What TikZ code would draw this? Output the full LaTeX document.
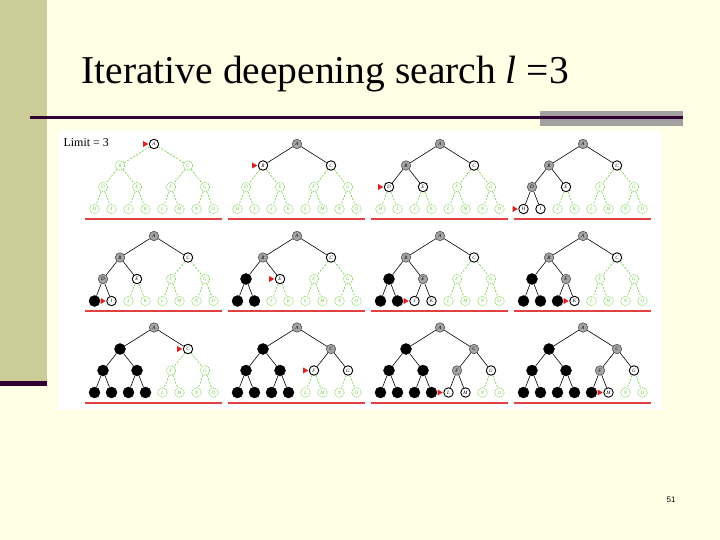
\documentclass[tikz,border=0pt]{standalone}
\usepackage{fontspec}
\setmainfont{Liberation Serif}
\newfontfamily\slidesans{Liberation Sans}
\usepackage{xcolor}
\definecolor{slidebg}{HTML}{FFFFE5}
\definecolor{khaki}{HTML}{CCCC99}
\definecolor{plum}{HTML}{330033}
\definecolor{barstone}{HTML}{A0A0A0}
\definecolor{treegreen}{HTML}{66CC33}
\definecolor{expgray}{HTML}{A4A4A4}
\definecolor{markred}{HTML}{E02020}
\definecolor{rulered}{HTML}{E04040}

% one search snapshot: #1 name, #2/#3 root position, #4 states (0 new, 1 frontier, 2 expanded, 3 dropped), #5 marked node
\newcommand\treepanel[5]{%
  \begin{scope}[shift={(#2,#3)}]
    \foreach \lab [count=\i] in {A,B,C,D,E,F,G,H,I,J,K,L,M,N,O} {
      \pgfmathtruncatemacro\st{{#4}[\i-1]}
      \pgfmathsetmacro\nx{{0,-34,34,-51,-17,17,51,-59.5,-42.5,-25.5,-8.5,8.5,25.5,42.5,59.5}[\i-1]}
      \pgfmathsetmacro\ny{{0,21.5,21.5,43,43,43,43,65,65,65,65,65,65,65,65}[\i-1]}
      \node[treenode, st\st] (#1n\i) at (\nx,\ny) {\lab};
    }
    \foreach \i in {2,...,15} {
      \pgfmathtruncatemacro\up{int(\i/2)}
      \pgfmathtruncatemacro\st{{#4}[\i-1]}
      \draw[ed\st] (#1n\up) -- (#1n\i);
    }
    \fill[markred] ([xshift=-0.6pt]#1n#5.west) -- ++(-5,-3) -- ++(0,6) -- cycle;
    \draw[redrule] (-69,75) -- (68,75);
  \end{scope}}

\begin{document}
\begin{tikzpicture}[
  x=1pt, y=-1pt,
  treenode/.style={circle, inner sep=0pt, minimum size=9.5pt,
    font=\fontsize{5}{5}\selectfont\itshape},
  st0/.style={draw=treegreen, text=treegreen, fill=white, line width=0.5pt,
    dash pattern=on 1.4pt off 0.9pt},
  st1/.style={draw=black, fill=white, line width=0.9pt},
  st2/.style={draw=black!75, fill=expgray, line width=0.5pt},
  st3/.style={draw=black, fill=black, minimum size=11pt},
  ed0/.style={draw=treegreen, line width=0.6pt, dash pattern=on 2pt off 1.5pt},
  ed1/.style={draw=black, line width=0.6pt},
  ed2/.style={ed1},
  ed3/.style={ed1},
  redrule/.style={draw=rulered, line width=2pt}
]
\useasboundingbox[fill=slidebg] (0,0) rectangle (720,540);
% slide frame
\fill[khaki] (0,0) rectangle (47,381);
\fill[plum] (0,381) rectangle (47,386);
\fill[barstone] (540,111) rectangle (683,126);
\draw[plum, line width=3pt] (30,118) -- (683,118);
\node[anchor=base west, font=\fontsize{39.5}{40}\selectfont] (title) at (78,84)
  {Iterative deepening search \textit{l} =3};
\fill[white] (58,131) rectangle (662,410);
\node[anchor=west, font=\fontsize{12}{12}\selectfont] (limit) at (60,143) {Limit = 3};

% row 1
\treepanel{pa}{154}{144}{1,0,0,0,0,0,0,0,0,0,0,0,0,0,0}{1}
\treepanel{pb}{297}{144}{2,1,1,0,0,0,0,0,0,0,0,0,0,0,0}{2}
\treepanel{pc}{440}{144}{2,2,1,1,1,0,0,0,0,0,0,0,0,0,0}{4}
\treepanel{pd}{583}{144}{2,2,1,2,1,0,0,1,1,0,0,0,0,0,0}{8}
% row 2
\treepanel{pe}{154}{236}{2,2,1,2,1,0,0,3,1,0,0,0,0,0,0}{9}
\treepanel{pf}{297}{236}{2,2,1,3,1,0,0,3,3,0,0,0,0,0,0}{5}
\treepanel{pg}{440}{236}{2,2,1,3,2,0,0,3,3,1,1,0,0,0,0}{10}
\treepanel{ph}{583}{236}{2,2,1,3,2,0,0,3,3,3,1,0,0,0,0}{11}
% row 3
\treepanel{pi}{154}{327.5}{2,3,1,3,3,0,0,3,3,3,3,0,0,0,0}{3}
\treepanel{pj}{297}{327.5}{2,3,2,3,3,1,1,3,3,3,3,0,0,0,0}{6}
\treepanel{pk}{440}{327.5}{2,3,2,3,3,2,1,3,3,3,3,1,1,0,0}{12}
\treepanel{pl}{583}{327.5}{2,3,2,3,3,2,1,3,3,3,3,3,1,0,0}{13}

\node[font=\slidesans\fontsize{8}{8}\selectfont] (page) at (671,500) {51};
\end{tikzpicture}
\end{document}
